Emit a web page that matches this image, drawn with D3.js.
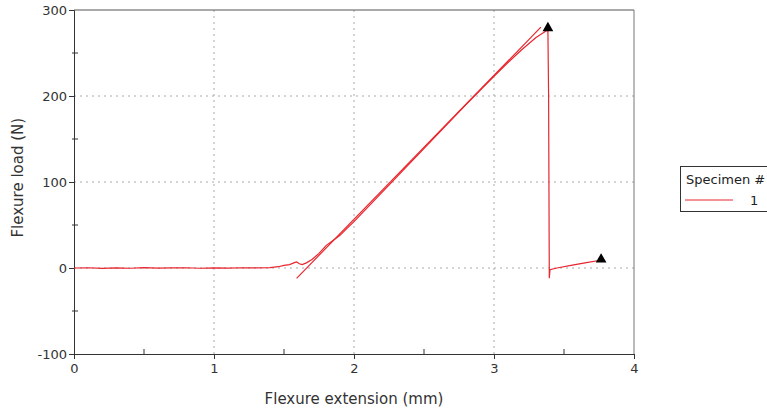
<!DOCTYPE html>
<html><head><meta charset="utf-8">
<script src="https://cdn.jsdelivr.net/npm/d3@7"></script>
<style>body{margin:0;background:#fff}svg{display:block}text{font-family:"DejaVu Sans",Verdana,sans-serif}</style>
</head><body>
<svg id="c" width="767" height="414"></svg>
<script>
// Data
const xTicks = [0, 1, 2, 3, 4];
const yTicks = [-100, 0, 100, 200, 300];
const xMinor = [0.5, 1.5, 2.5, 3.5];
const yMinor = [-50, 50, 150, 250];
const seriesLabel = "1";
// measured load curve [extension mm, load N]
const curveX = [0, 0.1, 0.2, 0.3, 0.4, 0.5, 0.6, 0.7, 0.8, 0.9, 1.0, 1.1, 1.2, 1.3, 1.4, 1.46, 1.5, 1.54, 1.57, 1.59, 1.61, 1.63, 1.66, 1.7, 1.75, 1.8, 1.85, 1.9, 1.95, 2.0, 2.2, 2.4, 2.6, 2.8, 3.0, 3.1, 3.2, 3.3, 3.385, 3.39, 3.395, 3.40, 3.45, 3.55, 3.65, 3.76];
const curveY = [0, 0.3, -0.4, 0.2, -0.3, 0.4, -0.2, 0.1, 0.3, -0.3, 0.2, -0.2, 0.3, 0.1, 0.5, 1.5, 3, 4, 6, 7, 5, 4, 6, 10, 17, 26, 32, 38, 46, 54, 88, 122, 156, 190, 223, 239, 254, 268, 277, 200, -12, -2, 0, 3, 6, 9];
// fitted modulus line
const fitX = [1.59, 3.335];
const fitY = [-12, 280];
// break markers
const markX = [3.385, 3.765];
const markY = [279, 10];

const svg = d3.select("#c");
const m = {l: 74, r: 634, t: 10, b: 354};
const x = d3.scaleLinear().domain([0, 4]).range([m.l, m.r]);
const y = d3.scaleLinear().domain([-100, 300]).range([m.b, m.t]);
const red = "#e8262e";
const fmt = d => String(d);

// grid
const g = svg.append("g");
g.selectAll("line.gx").data([1, 2, 3]).join("line")
  .attr("x1", d => x(d)).attr("x2", d => x(d)).attr("y1", m.t).attr("y2", m.b)
  .attr("stroke", "#aaa").attr("stroke-dasharray", "2,4");
g.selectAll("line.gy").data([0, 100, 200]).join("line")
  .attr("y1", d => y(d)).attr("y2", d => y(d)).attr("x1", m.l).attr("x2", m.r)
  .attr("stroke", "#aaa").attr("stroke-dasharray", "2,4");

// frame top/right
svg.append("line").attr("x1", m.l).attr("x2", m.r).attr("y1", m.t).attr("y2", m.t).attr("stroke", "#555");
svg.append("line").attr("x1", m.r).attr("x2", m.r).attr("y1", m.t).attr("y2", m.b).attr("stroke", "#777");

// axes
const xa = svg.append("g").attr("transform", `translate(0,${m.b})`)
  .call(d3.axisBottom(x).tickValues(xTicks).tickSize(5).tickPadding(5).tickFormat(fmt));
const ya = svg.append("g").attr("transform", `translate(${m.l},0)`)
  .call(d3.axisLeft(y).tickValues(yTicks).tickSize(5).tickPadding(2).tickFormat(fmt));
[xa, ya].forEach(a => {
  a.select(".domain").attr("stroke", "#333");
  a.selectAll(".tick line").attr("stroke", "#333");
  a.selectAll("text").attr("font-size", 13).attr("fill", "#333");
});
// minor ticks crossing axes
svg.selectAll("line.mx").data(xMinor).join("line")
  .attr("x1", d => x(d)).attr("x2", d => x(d)).attr("y1", m.b - 5).attr("y2", m.b + 1).attr("stroke", "#333");
svg.selectAll("line.my").data(yMinor).join("line")
  .attr("y1", d => y(d)).attr("y2", d => y(d)).attr("x1", m.l - 2).attr("x2", m.l + 4).attr("stroke", "#333");

// titles
svg.append("text").attr("x", x(2)).attr("y", 404).attr("text-anchor", "middle")
  .attr("font-size", 15).attr("fill", "#333").text("Flexure extension (mm)");
svg.append("text").attr("transform", `translate(23,${y(105)}) rotate(-90)`).attr("text-anchor", "middle")
  .attr("font-size", 15).attr("fill", "#333").text("Flexure load (N)");

// fit line
const line = d3.line().x(d => x(d[0])).y(d => y(d[1]));
svg.append("path").datum(d3.zip(fitX, fitY)).attr("d", line)
  .attr("fill", "none").attr("stroke", red).attr("stroke-width", 1.2);
// curve
svg.append("path").datum(d3.zip(curveX, curveY)).attr("d", line)
  .attr("fill", "none").attr("stroke", red).attr("stroke-width", 1.2);
// markers
svg.selectAll("path.mk").data(d3.zip(markX, markY)).join("path")
  .attr("transform", d => `translate(${x(d[0])},${y(d[1])})`)
  .attr("d", d3.symbol(d3.symbolTriangle, 50)).attr("fill", "#000");

// legend
const lg = svg.append("g");
lg.append("rect").attr("x", 680.5).attr("y", 166.5).attr("width", 100).attr("height", 45)
  .attr("fill", "#fff").attr("stroke", "#333");
lg.append("text").attr("x", 686).attr("y", 184).attr("font-size", 13).attr("fill", "#222").text("Specimen #");
lg.append("line").attr("x1", 685).attr("x2", 733).attr("y1", 200).attr("y2", 200).attr("stroke", red);
lg.append("text").attr("x", 750).attr("y", 205).attr("font-size", 13).attr("fill", "#222").text(seriesLabel);
</script>
</body></html>
